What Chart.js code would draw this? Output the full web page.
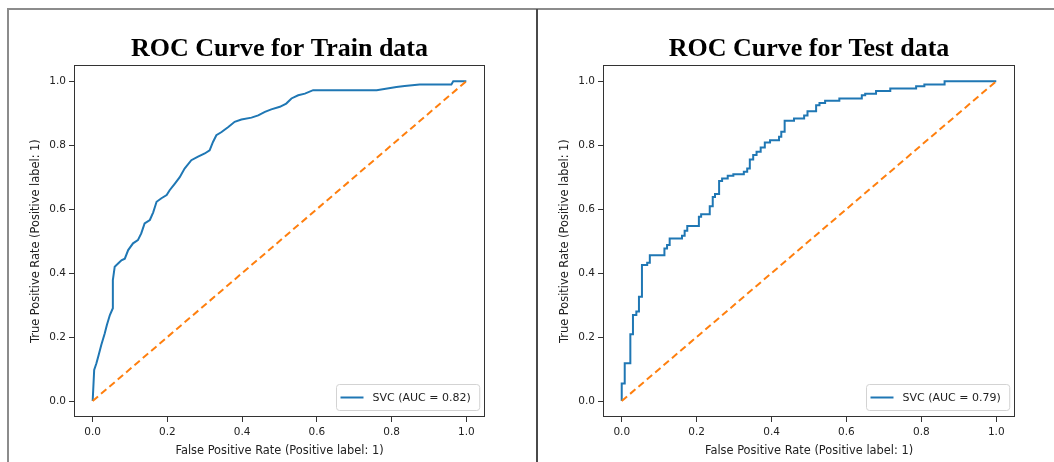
<!DOCTYPE html>
<html>
<head>
<meta charset="utf-8">
<title>ROC curves</title>
<script src="https://cdn.jsdelivr.net/npm/chart.js@4.4.0/dist/chart.umd.min.js"></script>
<style>
  html, body { margin: 0; padding: 0; background: #fff; width: 1054px; height: 462px; overflow: hidden; }
  body { position: relative; }
  canvas { position: absolute; top: 0; }
  #train-chart { left: 20px; }
  #test-chart { left: 549px; }
  .rule { position: absolute; z-index: 2; }
  #rule-top { left: 7px; top: 8px; width: 1047px; height: 2px; background: #8c8c8c; }
  #rule-left { left: 7px; top: 8px; width: 2px; height: 454px; background: #8c8c8c; }
  #rule-mid { left: 536px; top: 9px; width: 2px; height: 453px; background: #4a4a4a; }
</style>
</head>
<body>
<div class="rule" id="rule-top"></div>
<div class="rule" id="rule-left"></div>
<div class="rule" id="rule-mid"></div>
<canvas id="train-chart" width="517" height="462"></canvas>
<canvas id="test-chart" width="505" height="462"></canvas>
<script>
// Valores
const tickValues = [0, 0.2, 0.4, 0.6, 0.8, 1.0];

const trainFpr = [0, 0.004, 0.010, 0.016, 0.023, 0.032, 0.038, 0.046, 0.054, 0.054,
  0.059, 0.068, 0.077, 0.086, 0.095, 0.108, 0.121, 0.130, 0.139, 0.153,
  0.162, 0.171, 0.184, 0.198, 0.206, 0.220, 0.233, 0.246, 0.264, 0.282,
  0.300, 0.313, 0.322, 0.331, 0.345, 0.363, 0.380, 0.398, 0.425, 0.443,
  0.461, 0.478, 0.501, 0.518, 0.532, 0.550, 0.568, 0.590, 0.760, 0.813,
  0.835, 0.875, 0.960, 0.965, 1.0];
const trainTpr = [0, 0.097, 0.118, 0.144, 0.175, 0.210, 0.238, 0.269, 0.290, 0.378,
  0.420, 0.430, 0.440, 0.445, 0.472, 0.493, 0.503, 0.524, 0.555, 0.566,
  0.590, 0.623, 0.634, 0.644, 0.659, 0.680, 0.700, 0.727, 0.753, 0.764,
  0.774, 0.784, 0.810, 0.831, 0.841, 0.857, 0.873, 0.880, 0.886, 0.893,
  0.904, 0.912, 0.920, 0.930, 0.946, 0.956, 0.961, 0.972, 0.972, 0.982,
  0.985, 0.990, 0.990, 1.0, 1.0];

const testFpr = [0, 0, 0.008, 0.023, 0.030, 0.039, 0.046, 0.054, 0.068, 0.075,
  0.114, 0.121, 0.128, 0.161, 0.168, 0.175, 0.206, 0.212, 0.235, 0.243,
  0.249, 0.260, 0.268, 0.283, 0.298, 0.326, 0.335, 0.342, 0.351, 0.360,
  0.371, 0.382, 0.396, 0.420, 0.426, 0.435, 0.460, 0.487, 0.496, 0.519,
  0.528, 0.543, 0.581, 0.641, 0.650, 0.679, 0.717, 0.786, 0.808, 0.862, 1.0];
const testTpr = [0, 0.055, 0.118, 0.209, 0.269, 0.280, 0.326, 0.425, 0.432, 0.456,
  0.477, 0.488, 0.508, 0.517, 0.532, 0.547, 0.576, 0.584, 0.609, 0.638,
  0.647, 0.688, 0.696, 0.704, 0.709, 0.717, 0.727, 0.755, 0.769, 0.779,
  0.793, 0.808, 0.815, 0.826, 0.842, 0.876, 0.883, 0.893, 0.906, 0.925,
  0.932, 0.939, 0.946, 0.956, 0.961, 0.969, 0.977, 0.984, 0.990, 1.0, 1.0];

const chanceFpr = [0, 1];
const chanceTpr = [0, 1];

const BLUE = '#1f77b4';
const ORANGE = '#ff7f0e';
const TICK_FONT = { family: '"DejaVu Sans", sans-serif', size: 10.5 };
const LABEL_FONT = { family: '"DejaVu Sans", sans-serif', size: 11.4 };

// Moldura dos eixos (quatro lados)
const framePlugin = {
    id: 'axesFrame',
    afterDatasetsDraw(chart) {
        const a = chart.chartArea;
        const ctx = chart.ctx;
        ctx.save();
        ctx.strokeStyle = '#333';
        ctx.lineWidth = 1;
        ctx.strokeRect(Math.round(a.left) + 0.5, Math.round(a.top) + 0.5,
            Math.round(a.right - a.left) - 1, Math.round(a.bottom - a.top) - 1);
        ctx.restore();
    }
};

// Legenda no canto inferior direito, estilo matplotlib
const legendPlugin = {
    id: 'rocLegend',
    afterDraw(chart) {
        const ds = chart.data.datasets[0];
        const a = chart.chartArea;
        const ctx = chart.ctx;
        ctx.save();
        ctx.font = '11px "DejaVu Sans", sans-serif';
        const tw = ctx.measureText(ds.label).width;
        const w = 4 + 23 + 9 + tw + 9;
        const h = 26;
        const x = Math.round(a.right - 6 - w) + 0.5;
        const y = Math.round(a.bottom - 7 - h) + 0.5;
        ctx.beginPath();
        ctx.roundRect(x, y, w, h, 3);
        ctx.fillStyle = 'rgba(255,255,255,0.85)';
        ctx.fill();
        ctx.strokeStyle = '#d3d3d3';
        ctx.lineWidth = 1;
        ctx.stroke();
        ctx.beginPath();
        ctx.moveTo(x + 4, y + h / 2);
        ctx.lineTo(x + 27, y + h / 2);
        ctx.strokeStyle = ds.borderColor;
        ctx.lineWidth = 2;
        ctx.stroke();
        ctx.fillStyle = '#222';
        ctx.textBaseline = 'middle';
        ctx.fillText(ds.label, x + 36, y + h / 2 + 0.5);
        ctx.restore();
    }
};

function axisOptions(titleText, isX) {
    return {
        type: 'linear',
        min: -0.05,
        max: 1.05,
        afterBuildTicks: function(scale) {
            scale.ticks = tickValues.map(v => ({ value: v }));
        },
        afterFit: function(scale) {
            if (isX) scale.height = 45; else scale.width = 54;
        },
        ticks: {
            callback: v => v.toFixed(1),
            color: '#222',
            font: TICK_FONT,
            padding: isX ? 4 : 3,
            maxRotation: 0,
            autoSkip: false
        },
        grid: {
            drawOnChartArea: false,
            drawTicks: true,
            tickLength: 5,
            tickColor: '#333',
            tickWidth: 1
        },
        border: { display: false },
        title: {
            display: true,
            text: titleText,
            color: '#222',
            font: LABEL_FONT,
            padding: isX ? { top: 4, bottom: 4 } : { top: 9, bottom: 0 }
        }
    };
}

function createRocChart(canvasId, titleText, fpr, tpr, stepped, label, padRight) {
    const ctx = document.getElementById(canvasId).getContext('2d');

    const rocPoints = fpr.map((x, i) => ({ x: x, y: tpr[i] }));
    const chancePoints = chanceFpr.map((x, i) => ({ x: x, y: chanceTpr[i] }));

    return new Chart(ctx, {
        type: 'scatter',
        data: {
            datasets: [{
                label: label,
                data: rocPoints,
                showLine: true,
                stepped: stepped,
                borderColor: BLUE,
                backgroundColor: BLUE,
                borderWidth: 2,
                pointRadius: 0,
                order: 1
            }, {
                label: 'chance',
                data: chancePoints,
                showLine: true,
                borderColor: ORANGE,
                backgroundColor: ORANGE,
                borderWidth: 2,
                borderDash: [7, 4],
                pointRadius: 0,
                order: 0
            }]
        },
        options: {
            responsive: false,
            animation: false,
            layout: { padding: { top: 0, right: padRight, bottom: 0, left: 0 } },
            plugins: {
                legend: { display: false },
                tooltip: { enabled: false },
                title: {
                    display: true,
                    text: titleText,
                    fullSize: false,
                    color: '#000',
                    font: { family: '"Liberation Serif", "Times New Roman", serif', weight: 'bold', size: 26 },
                    padding: { top: 34, bottom: 0 }
                }
            },
            scales: {
                x: axisOptions('False Positive Rate (Positive label: 1)', true),
                y: axisOptions('True Positive Rate (Positive label: 1)', false)
            }
        },
        plugins: [framePlugin, legendPlugin]
    });
}

createRocChart('train-chart', 'ROC Curve for Train data', trainFpr, trainTpr, false, 'SVC (AUC = 0.82)', 52);
createRocChart('test-chart', 'ROC Curve for Test data', testFpr, testTpr, true, 'SVC (AUC = 0.79)', 39);
</script>
</body>
</html>
